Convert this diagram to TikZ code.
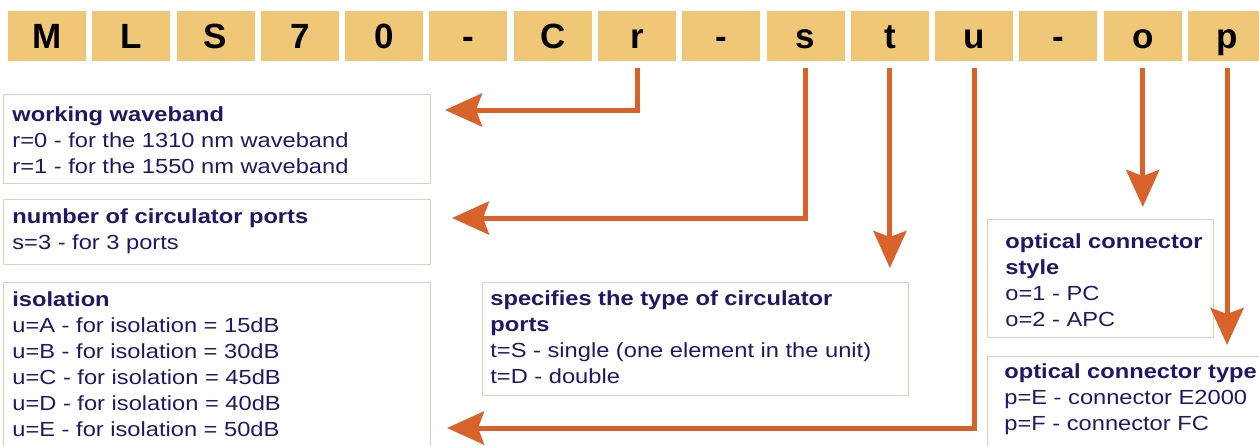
\documentclass[tikz,border=0pt]{standalone}
\usepackage{fontspec}
\setmainfont{Liberation Sans}[FakeStretch=1.16]
\newfontfamily\codefont{Liberation Sans}
\usetikzlibrary{arrows.meta}
\definecolor{codefill}{RGB}{239,199,118}
\definecolor{arrowc}{RGB}{217,98,43}
\definecolor{boxline}{RGB}{230,205,186}
\definecolor{navy}{RGB}{35,22,100}
\tikzset{
  codebox/.style={fill=codefill, minimum width=39pt, minimum height=25pt, inner sep=0pt,
    text height=12.5pt, text depth=0pt, font=\codefont\bfseries\fontsize{17.5}{20}\selectfont},
  infobox/.style={draw=boxline, line width=0.6pt, anchor=north west, inner sep=0pt},
  infotext/.style={anchor=base west, align=left, text=navy, inner sep=0pt,
    font=\fontsize{10.2}{13}\selectfont},
  link/.style={draw=arrowc, line width=2.5pt, -{Stealth[length=18.5pt, width=16.5pt, inset=3pt]}}
}
\begin{document}
\begin{tikzpicture}[x=0.5pt, y=-0.5pt]
    \useasboundingbox (0,0) rectangle (1259,445);
    \clip (0,0) rectangle (1259,445);

    % code letters
    \foreach \ch [count=\i] in {M,L,S,7,0,-,C,r,-,s,t,u,-,o,p}
        \node (code\i) [codebox] at ({47+(\i-1)*84.29},36) {\ch};

    % boxes
    \node (wave) [infobox, minimum width=213.5pt, minimum height=44.5pt] at (3,94) {};
    \node (ports) [infobox, minimum width=213.5pt, minimum height=32.5pt] at (3,199) {};
    \node (iso) [infobox, minimum width=213.5pt, minimum height=90pt] at (3,282) {};
    \node (spec) [infobox, minimum width=213pt, minimum height=56.5pt] at (482,282) {};
    \node (style) [infobox, minimum width=113pt, minimum height=59pt] at (987,219) {};
    \node (type) [infobox, minimum width=145pt, minimum height=50pt] at (987,356) {};

    % texts (placed by the baseline of their last line)
    \node (wavetxt) [infotext] at ([shift={(9,79)}]wave.north west)
        {\textbf{working waveband}\\r=0 - for the 1310 nm waveband\\r=1 - for the 1550 nm waveband};
    \node (portstxt) [infotext] at ([shift={(9,50)}]ports.north west)
        {\textbf{number of circulator ports}\\s=3 - for 3 ports};
    \node (isotxt) [infotext] at ([shift={(9,154)}]iso.north west)
        {\textbf{isolation}\\u=A - for isolation = 15dB\\u=B - for isolation = 30dB\\
         u=C - for isolation = 45dB\\u=D - for isolation = 40dB\\u=E - for isolation = 50dB};
    \node (spectxt) [infotext] at ([shift={(8,101)}]spec.north west)
        {\textbf{specifies the type of circulator}\\\textbf{ports}\\
         t=S - single (one element in the unit)\\t=D - double};
    \node (styletxt) [infotext] at ([shift={(18,107)}]style.north west)
        {\textbf{optical connector}\\\textbf{style}\\o=1 - PC\\o=2 - APC};
    \node (typetxt) [infotext] at ([shift={(17,74)}]type.north west)
        {\textbf{optical connector type}\\p=E - connector E2000\\p=F - connector FC};

    % arrow ends
    \coordinate (rend) at (445,110);
    \coordinate (send) at (452,218);
    \coordinate (tend) at (891,268);
    \coordinate (uend) at (447,428);
    \coordinate (oend) at (1143,207);
    \coordinate (pend) at (1233,345);

    % edges
    \draw[link] ([yshift=-3.5pt]code8.south) |- (rend);
    \draw[link] ([yshift=-3.5pt]code10.south) |- (send);
    \draw[link] ([yshift=-3.5pt]code11.south) -- (code11.south |- tend);
    \draw[link] ([yshift=-3.5pt]code12.south) |- (uend);
    \draw[link] ([yshift=-3.5pt]code14.south) -- (code14.south |- oend);
    \draw[link] ([yshift=-3.5pt]code15.south) -- (code15.south |- pend);
\end{tikzpicture}
\end{document}
